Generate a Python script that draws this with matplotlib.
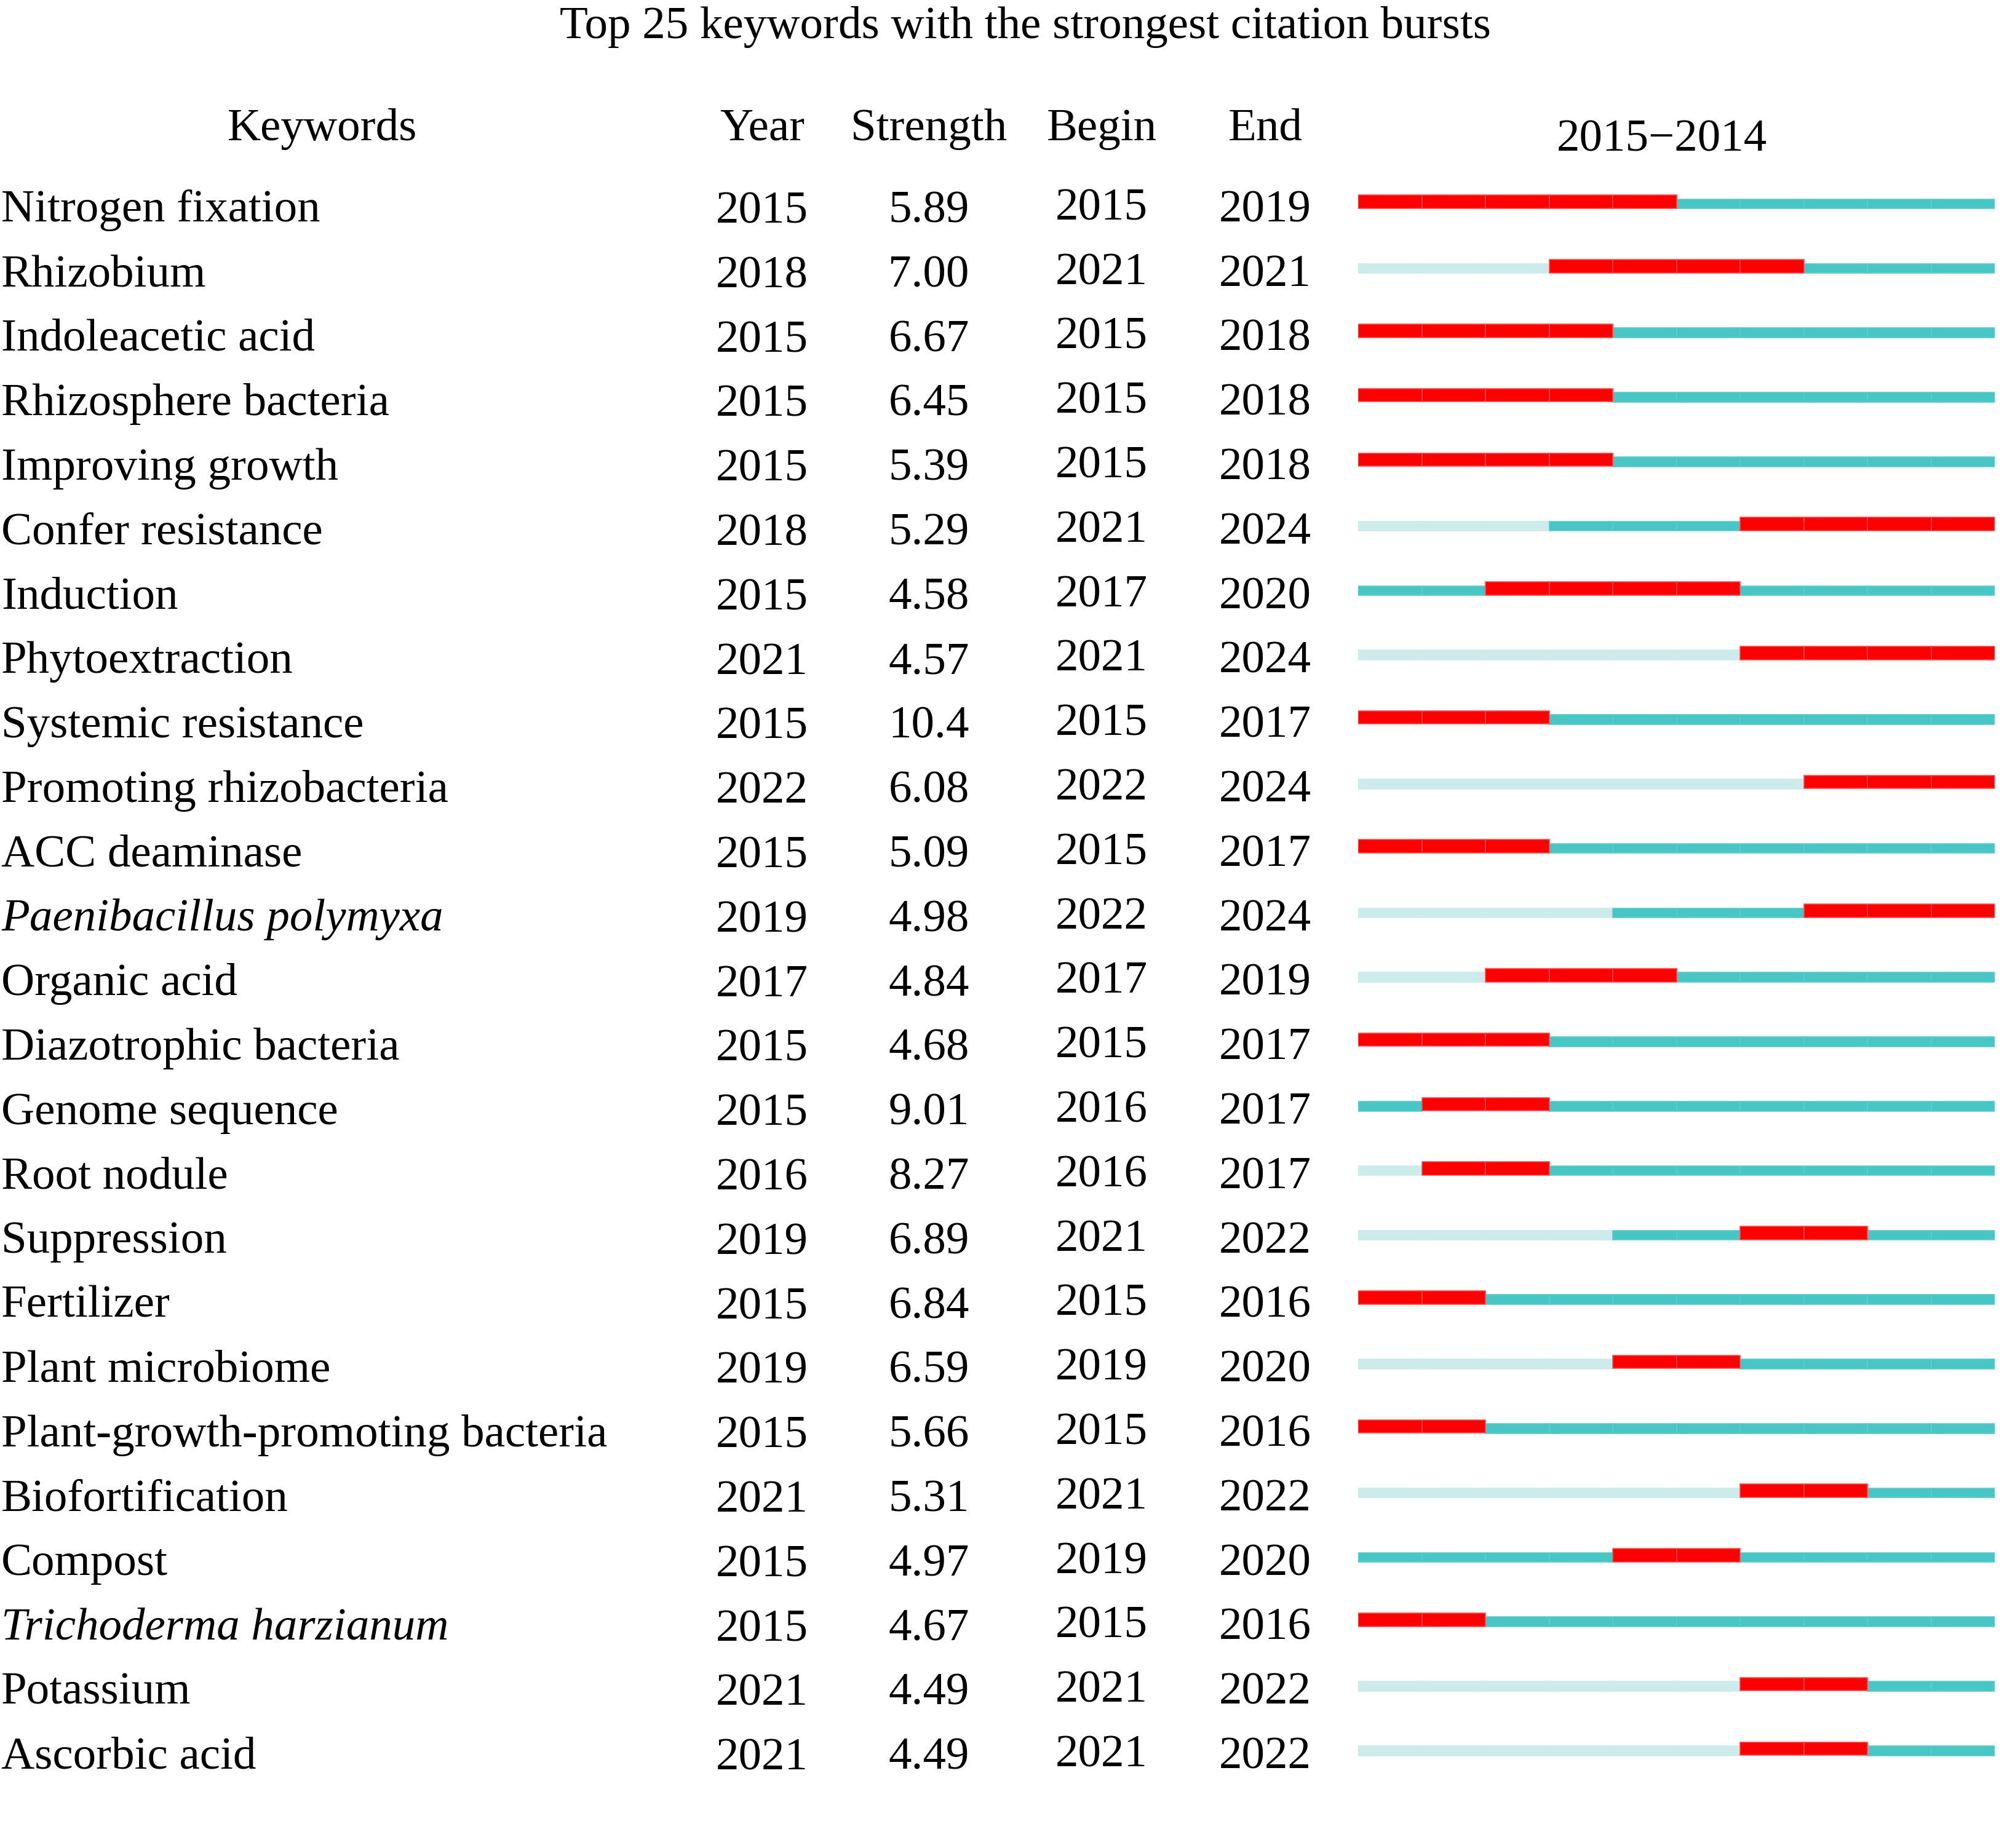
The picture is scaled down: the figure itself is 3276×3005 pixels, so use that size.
import numpy as np
import matplotlib
matplotlib.use("Agg")
import matplotlib.pyplot as plt
from matplotlib.transforms import blended_transform_factory

plt.rcParams['font.family'] = ['Liberation Serif', 'DejaVu Serif']

# ---- data ----
keywords = [
    "Nitrogen fixation", "Rhizobium", "Indoleacetic acid", "Rhizosphere bacteria",
    "Improving growth", "Confer resistance", "Induction", "Phytoextraction",
    "Systemic resistance", "Promoting rhizobacteria", "ACC deaminase",
    "Paenibacillus polymyxa", "Organic acid", "Diazotrophic bacteria",
    "Genome sequence", "Root nodule", "Suppression", "Fertilizer",
    "Plant microbiome", "Plant-growth-promoting bacteria", "Biofortification",
    "Compost", "Trichoderma harzianum", "Potassium", "Ascorbic acid",
]
italic_keywords = ["Paenibacillus polymyxa", "Trichoderma harzianum"]
years = [2015, 2018, 2015, 2015, 2015, 2018, 2015, 2021, 2015, 2022, 2015, 2019, 2017,
         2015, 2015, 2016, 2019, 2015, 2019, 2015, 2021, 2015, 2015, 2021, 2021]
strengths = ["5.89", "7.00", "6.67", "6.45", "5.39", "5.29", "4.58", "4.57", "10.4", "6.08",
             "5.09", "4.98", "4.84", "4.68", "9.01", "8.27", "6.89", "6.84", "6.59", "5.66",
             "5.31", "4.97", "4.67", "4.49", "4.49"]
begins = [2015, 2021, 2015, 2015, 2015, 2021, 2017, 2021, 2015, 2022, 2015, 2022, 2017,
          2015, 2016, 2016, 2021, 2015, 2019, 2015, 2021, 2019, 2015, 2021, 2021]
ends = [2019, 2021, 2018, 2018, 2018, 2024, 2020, 2024, 2017, 2024, 2017, 2024, 2019,
        2017, 2017, 2017, 2022, 2016, 2020, 2016, 2022, 2020, 2016, 2022, 2022]
# red part of the bars as drawn (Rhizobium bar starts earlier than its label)
bar_begins = [2015, 2018, 2015, 2015, 2015, 2021, 2017, 2021, 2015, 2022, 2015, 2022, 2017,
              2015, 2016, 2016, 2021, 2015, 2019, 2015, 2021, 2019, 2015, 2021, 2021]
timeline = np.arange(2015, 2025)
range_label = "2015\u22122014"
title = "Top 25 keywords with the strongest citation bursts"

RED = "#ff0000"
TEAL = "#48c5c5"
LIGHT = "#cdebeb"

W, H = 3276, 3005
fig = plt.figure(figsize=(W / 200, H / 200), dpi=200)

# bar axes: x in years, y in row index
row0_px, row_px = 330, 104.8
ax = fig.add_axes([2208 / W, 0, 1035 / W, 1])
ax.set_xlim(2015, 2025)
ax.set_ylim((H - row0_px) / row_px, -row0_px / row_px)
ax.axis("off")

n = len(keywords)
for i in range(n):
    for yr in timeline:
        if bar_begins[i] <= yr <= ends[i]:
            ax.bar(yr, 0.205, width=1, bottom=i + 0.085 - 0.205, align="edge",
                   color=RED, edgecolor="#ff5050", linewidth=0.6, zorder=3)
        elif yr < years[i]:
            ax.bar(yr, 0.15, width=1, bottom=i + 0.09 - 0.15, align="edge",
                   color=LIGHT, edgecolor=LIGHT, linewidth=0.6, zorder=2)
        else:
            ax.bar(yr, 0.15, width=1, bottom=i + 0.09 - 0.15, align="edge",
                   color=TEAL, edgecolor="#5ccccc", linewidth=0.6, zorder=2)

# text columns: x in figure fraction, y in rows
tr = blended_transform_factory(fig.transFigure, ax.transData)
fs = 27.0
col_x = {"year": 1239, "strength": 1510, "begin": 1791, "end": 2057}
for i in range(n):
    style = "italic" if keywords[i] in italic_keywords else "normal"
    ax.text(2 / W, i + 0.29, keywords[i], transform=tr, fontsize=fs, style=style,
            ha="left", va="baseline", clip_on=False)
    ax.text(col_x["year"] / W, i + 0.31, str(years[i]), transform=tr, fontsize=fs,
            ha="center", va="baseline", clip_on=False)
    ax.text(col_x["strength"] / W, i + 0.30, strengths[i], transform=tr, fontsize=fs,
            ha="center", va="baseline", clip_on=False)
    ax.text(col_x["begin"] / W, i + 0.26, str(begins[i]), transform=tr, fontsize=fs,
            ha="center", va="baseline", clip_on=False)
    ax.text(col_x["end"] / W, i + 0.29, str(ends[i]), transform=tr, fontsize=fs,
            ha="center", va="baseline", clip_on=False)

# headers and title
head_y = 1 - 228 / H
fig.text(524 / W, head_y, "Keywords", fontsize=fs, ha="center", va="baseline")
fig.text(col_x["year"] / W, head_y, "Year", fontsize=fs, ha="center", va="baseline")
fig.text(col_x["strength"] / W, head_y, "Strength", fontsize=fs, ha="center", va="baseline")
fig.text(col_x["begin"] / W, head_y, "Begin", fontsize=fs, ha="center", va="baseline")
fig.text(col_x["end"] / W, head_y, "End", fontsize=fs, ha="center", va="baseline")
fig.text(2702 / W, 1 - 245 / H, range_label, fontsize=fs, ha="center", va="baseline")
fig.text(1667 / W, 1 - 62 / H, title, fontsize=fs, ha="center", va="baseline")

fig.savefig("out.png", dpi=200, facecolor="white")
